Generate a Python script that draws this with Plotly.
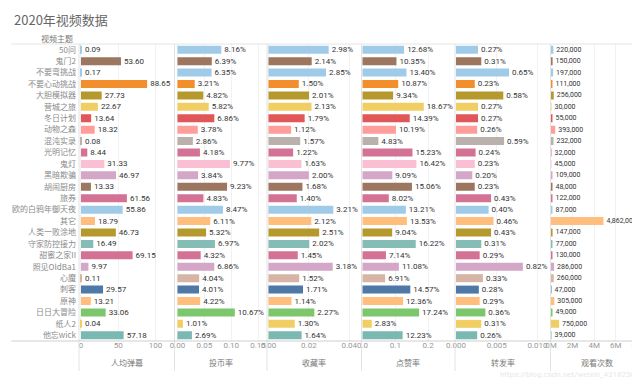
import plotly.graph_objects as go
from plotly.subplots import make_subplots

topics = ["50问", "鬼门2", "不要弯挑战", "不要心动挑战", "大胆模拟器", "营城之旅", "冬日计划", "动物之森",
          "混沌实录", "光明记忆", "鬼灯", "黑暗欺骗", "胡闹厨房", "旅券", "欧的白鸦年御天夜", "其它",
          "人类一败涂地", "守家防控接力", "甜蜜之家II", "照见OldBa1", "心魔", "刺客", "原神",
          "日日大冒险", "纸人2", "他忘wick"]

danmu = [0.09, 53.60, 0.17, 88.65, 27.73, 22.67, 13.64, 18.32, 0.08, 8.44, 31.33, 46.97, 13.33,
         61.56, 55.86, 18.79, 46.73, 16.49, 69.15, 9.97, 0.11, 29.57, 13.21, 33.06, 0.04, 57.18]
coin = [8.16, 6.39, 6.35, 3.21, 4.82, 5.82, 6.86, 3.78, 2.86, 4.18, 9.77, 3.84, 9.23, 4.83, 8.47,
        6.11, 5.32, 6.97, 4.32, 6.86, 4.04, 4.01, 4.22, 10.67, 1.01, 2.69]
fav = [2.98, 2.14, 2.85, 1.50, 2.01, 2.13, 1.79, 1.12, 1.57, 1.22, 1.63, 2.00, 1.68, 1.40, 3.21,
       2.12, 2.51, 2.02, 1.45, 3.18, 1.52, 1.71, 1.14, 2.27, 1.30, 1.64]
like = [12.68, 10.35, 13.40, 10.87, 9.34, 18.67, 14.39, 10.19, 4.83, 15.23, 16.42, 9.09, 15.06,
        8.02, 13.21, 13.53, 9.04, 16.22, 7.14, 11.08, 6.91, 14.57, 12.36, 17.24, 2.83, 12.23]
share = [0.27, 0.31, 0.65, 0.23, 0.58, 0.27, 0.27, 0.26, 0.59, 0.24, 0.23, 0.20, 0.23, 0.43, 0.40,
         0.46, 0.43, 0.31, 0.29, 0.82, 0.33, 0.28, 0.29, 0.36, 0.31, 0.26]
plays = [220000, 150000, 197000, 111000, 256000, 30000, 55000, 393000, 232000, 32000, 45000,
         109000, 48000, 122000, 87000, 4862000, 147000, 77000, 130000, 286000, 260000, 47000,
         305000, 49000, 750000, 39000]

colors = ["#A0CBE8", "#9D7660", "#A0CBE8", "#F28E2B", "#B6992D", "#F1CE63", "#E15759", "#FF9D9A",
          "#BAB0AC", "#D37295", "#FABFD2", "#D4A6C8", "#9D7660", "#D37295", "#A0CBE8", "#FFBE7D",
          "#B6992D", "#86BCB6", "#D37295", "#D4A6C8", "#D7B5A6", "#4E79A7", "#FFBE7D", "#7CC66C",
          "#F1CE63", "#7AB8B2"]

panel_titles = ["人均弹幕", "投币率", "收藏率", "点赞率", "转发率", "观看次数"]

W, H = 640, 379
ML, MR, MT, MB = 68, 4, 36, 46
PW = W - ML - MR
PH = H - MT - MB
edges_px = [68, 164, 257, 352, 446, 542, 636]
dom = [(e - ML) / PW for e in edges_px]
def py(p):
    return (H - MB - p) / PH

series = [
    (danmu, "%{x:.2f}"),
    ([v / 100 for v in coin], "%{x:.2%}"),
    ([v / 100 for v in fav], "%{x:.2%}"),
    ([v / 100 for v in like], "%{x:.2%}"),
    ([v / 100 for v in share], "%{x:.2%}"),
    (plays, "%{x:,}"),
]
text_sizes = [8, 8, 8, 8, 8, 7]
zero_px = [70, 167, 258.5, 353, 447, 542.5]
scale = [0.75, 540, 2030, 330, 8200, 10.85e-6]
ticks = [
    dict(tickvals=[0, 50, 100], ticktext=["0", "50", "100"]),
    dict(tickvals=[0, 0.05, 0.10, 0.15], ticktext=["0.00", "0.05", "0.10", "0.15"]),
    dict(tickvals=[0, 0.02, 0.04], ticktext=["0.00", "0.02", "0.04"]),
    dict(tickvals=[0, 0.1, 0.2], ticktext=["0.0", "0.1", "0.2"]),
    dict(tickvals=[0, 0.005, 0.010], ticktext=["0.000", "0.005", "0.010"]),
    dict(tickvals=[0, 2e6, 4e6, 6e6, 8e6], ticktext=["0M", "2M", "4M", "6M", "8M"]),
]

fig = make_subplots(rows=1, cols=6, shared_yaxes=True, horizontal_spacing=0)
for i, (vals, tmpl) in enumerate(series):
    fig.add_trace(go.Bar(
        x=vals, y=topics, orientation="h", marker=dict(color=colors, line=dict(width=0)),
        texttemplate=tmpl, textposition="outside", cliponaxis=False, constraintext="none",
        textfont=dict(size=text_sizes[i], color="#333333", family="Roboto"),
        showlegend=False), row=1, col=i + 1)
    lo = (edges_px[i] - zero_px[i]) / scale[i]
    hi = (edges_px[i + 1] - zero_px[i]) / scale[i]
    key = "xaxis" if i == 0 else f"xaxis{i+1}"
    fig.layout[key].update(
        domain=[dom[i], dom[i + 1]], range=[lo, hi], showgrid=True, gridcolor="#f1f1f1",
        zeroline=False, showline=False, ticks="", ticklabelstandoff=-2,
        tickfont=dict(size=8, color="#999999", family="Roboto"), **ticks[i])

fig.update_yaxes(categoryorder="array", categoryarray=topics, autorange="reversed",
                 showgrid=False, zeroline=False, showline=False, ticks="", ticklabelstandoff=2,
                 tickfont=dict(size=8, color="#8a8a8a", family="Noto Sans CJK SC"))

shapes = []
for k, e in enumerate(edges_px):
    x = (e - ML) / PW
    bottom = py(333) if k == len(edges_px) - 1 else py(363)
    shapes.append(dict(type="line", xref="paper", yref="paper", x0=x, x1=x, y0=1, y1=bottom,
                       line=dict(color="#e2e2e2", width=1)))
shapes.append(dict(type="line", xref="paper", yref="paper", x0=-ML / PW, x1=1, y0=1, y1=1,
                   line=dict(color="#e4e4e4", width=1)))
shapes.append(dict(type="line", xref="paper", yref="paper", x0=-ML / PW, x1=1, y0=0, y1=0,
                   line=dict(color="#cfcfcf", width=1)))

ann = []
ann.append(dict(text="2020年视频数据", xref="paper", yref="paper", x=(1 - ML) / PW, y=py(12),
                xanchor="left", yanchor="middle", showarrow=False,
                font=dict(size=13, color="#666666", family="Noto Sans CJK SC")))
ann.append(dict(text="视频主题", xref="paper", yref="paper", x=(64 - ML) / PW, y=py(30),
                xanchor="right", yanchor="middle", showarrow=False,
                font=dict(size=8, color="#777777", family="Noto Sans CJK SC")))
for i, t in enumerate(panel_titles):
    ann.append(dict(text=t, xref="paper", yref="paper", x=(dom[i] + dom[i + 1]) / 2, y=py(355),
                    xanchor="center", yanchor="middle", showarrow=False,
                    font=dict(size=8, color="#777777", family="Noto Sans CJK SC")))
ann.append(dict(text="https://blog.csdn.net/weixin_43182364", xref="paper", yref="paper",
                x=(634 - ML) / PW, y=py(366), xanchor="right", yanchor="middle", showarrow=False,
                font=dict(size=8, color="#e8e8e8", family="Roboto")))

fig.update_layout(width=W, height=H, margin=dict(l=ML, r=MR, t=MT, b=MB),
                  paper_bgcolor="white", plot_bgcolor="white", bargap=0.3,
                  shapes=shapes, annotations=ann)
fig.write_html("out.html")
